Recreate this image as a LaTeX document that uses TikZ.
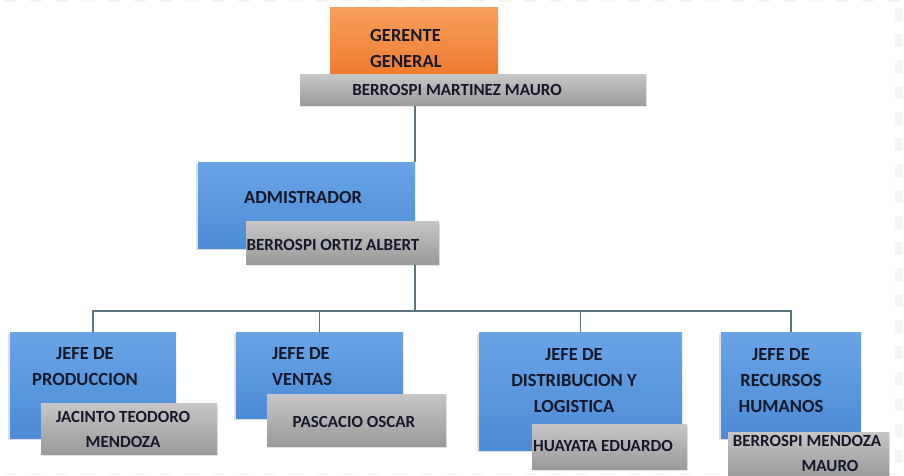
\documentclass[tikz,border=0pt]{standalone}
\usepackage{fontspec}
\setmainfont{Carlito}
\usetikzlibrary{shadows}
\definecolor{linec}{HTML}{5C7480}
\definecolor{bluetop}{HTML}{68A4E6}
\definecolor{bluebot}{HTML}{4C8BD6}
\definecolor{greytop}{HTML}{C6C6C6}
\definecolor{greybot}{HTML}{9A9A9A}
\definecolor{orangetop}{HTML}{F7A05C}
\definecolor{orangebot}{HTML}{EE7A2E}
\definecolor{txtc}{HTML}{16182A}
\definecolor{faintc}{HTML}{F5F5F5}
\begin{document}
\begin{tikzpicture}[x=1pt,y=-1pt,
  boxbase/.style={rectangle, inner sep=0pt, outer sep=0pt, anchor=north west},
  bluebox/.style={boxbase, top color=bluetop, bottom color=bluebot, draw=none,
    drop shadow={opacity=0.25, shadow xshift=-2pt, shadow yshift=-2pt}},
  greybar/.style={boxbase, top color=greytop, bottom color=greybot, draw=none,
    drop shadow={opacity=0.2, shadow xshift=1pt, shadow yshift=-1.5pt}},
  orangebox/.style={boxbase, top color=orangetop, bottom color=orangebot, draw=none},
  titletxt/.style={font=\bfseries\fontsize{18.5}{26}\selectfont, text=txtc, inner sep=0pt},
  nametxt/.style={font=\bfseries\fontsize{17}{25}\selectfont, text=txtc, inner sep=0pt},
  conn/.style={draw=linec, line width=1.8pt},
  faint/.style={draw=faintc}
]
\useasboundingbox (0,0) rectangle (904,476);
\fill[white] (0,0) rectangle (904,476);
% faint slide grid
\draw[faint, line width=2pt, dash pattern=on 12pt off 14pt] (4,1) -- (900,1);
\draw[faint, line width=8pt, dash pattern=on 13pt off 13pt] (899,8) -- (899,470);
\draw[faint, line width=2pt, dash pattern=on 12pt off 14pt] (4,474) -- (900,474);

% boxes
\node[orangebox, minimum width=168pt, minimum height=68pt] (gg) at (330,8) {};
\node[greybar, minimum width=346pt, minimum height=31pt] (ggbar) at (300,75) {};

\coordinate (bus) at (415,311);

\node[bluebox, minimum width=217pt, minimum height=86pt] (adm) at (198,162) {};
\node[bluebox, minimum width=166pt, minimum height=106pt] (b1) at (10,332) {};
\node[bluebox, minimum width=167pt, minimum height=86pt] (b2) at (236,332) {};
\node[bluebox, minimum width=203pt, minimum height=118pt] (b3) at (479,332) {};
\node[bluebox, minimum width=140pt, minimum height=106pt] (b4) at (721,332) {};

% connectors
\draw[conn] (ggbar.south -| adm.east) -- (adm.north east);
\draw[conn] (adm.south east) ++(0,16) -- (bus);
\draw[conn] (b1.north) |- (b4.north |- bus) -- (b4.north);
\draw[conn] (b2.north) -- (b2.north |- bus);
\draw[conn] (b3.north) -- (b3.north |- bus);

% grey name bars
\node[greybar, minimum width=193pt, minimum height=43pt] (admbar) at (246,221) {};
\node[greybar, minimum width=176pt, minimum height=51pt] (bar1) at (41,403) {};
\node[greybar, minimum width=179pt, minimum height=52pt] (bar2) at (267,394) {};
\node[greybar, minimum width=155pt, minimum height=45pt] (bar3) at (532,424) {};
\node[greybar, minimum width=161pt, minimum height=44pt] (bar4) at (728,432) {};

% titles
\node[titletxt, align=left, anchor=west] (tgg) at (370,48) {GERENTE\\GENERAL};
\node[titletxt] (tadm) at (303,197) {ADMISTRADOR};
\node[titletxt, align=center] (t1) at (85,367) {JEFE DE\\PRODUCCION};
\node[titletxt, align=left, anchor=west] (t2) at (272,367) {JEFE DE\\VENTAS};
\node[titletxt, align=center] (t3) at (574,381) {JEFE DE\\DISTRIBUCION Y\\LOGISTICA};
\node[titletxt, align=center] (t4) at (781,381) {JEFE DE\\RECURSOS\\HUMANOS};

% names
\node[nametxt] (ngg) at (457,90) {BERROSPI MARTINEZ MAURO};
\node[nametxt] (nadm) at (333,245) {BERROSPI ORTIZ ALBERT};
\node[nametxt, align=center] (n1) at (123,429) {JACINTO TEODORO\\MENDOZA};
\node[nametxt] (n2) at (354,422) {PASCACIO OSCAR};
\node[nametxt] (n3) at (603,446) {HUAYATA EDUARDO};
\node[nametxt, align=center] (n4) at (807,453) {BERROSPI MENDOZA\\\hspace*{46pt}MAURO};
\end{tikzpicture}
\end{document}
